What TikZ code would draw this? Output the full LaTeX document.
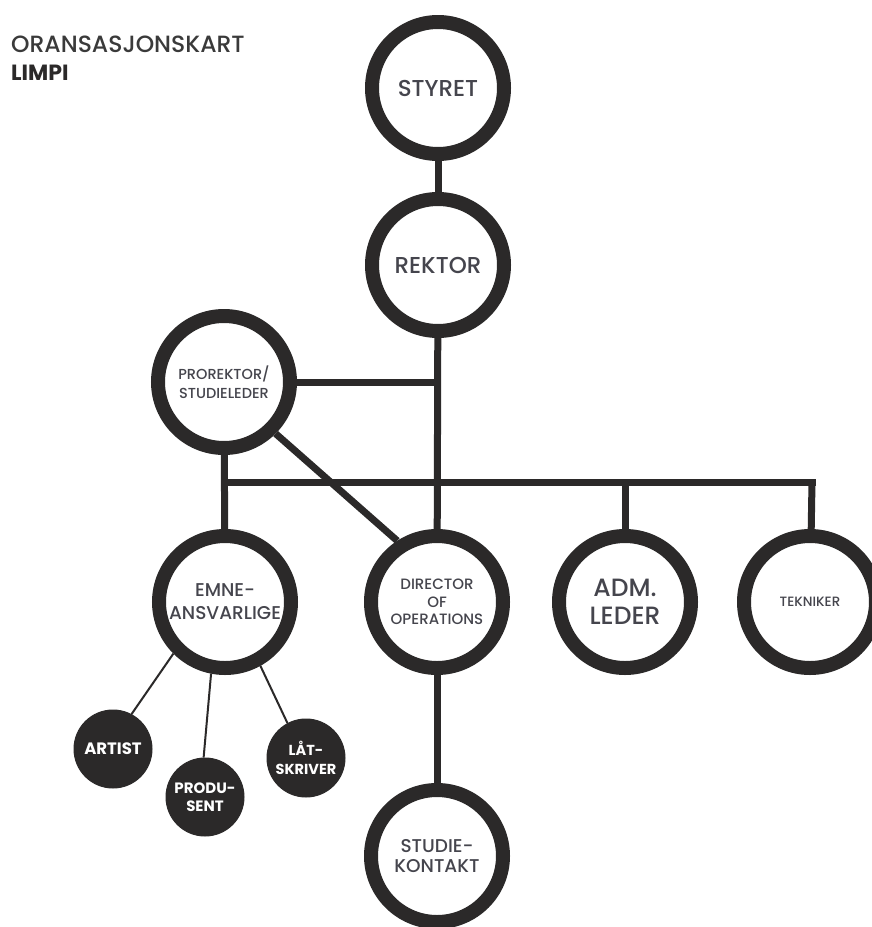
\documentclass[tikz,border=0pt]{standalone}
\usepackage{fontspec}
\setmainfont{Poppins}
\newfontfamily\medfont{Poppins}[UprightFont=* Medium]
\definecolor{ink}{HTML}{2B2929}
\definecolor{txt}{HTML}{45454D}
\definecolor{ttl}{HTML}{3A3A3A}
\begin{document}
\begin{tikzpicture}[x=1pt,y=-1pt,
  ring/.style={circle, draw=ink, line width=14pt, fill=white, minimum size=132pt, inner sep=0pt, text=txt, align=center},
  dot/.style={circle, draw=ink, fill=ink, line width=1pt, minimum size=78pt, inner sep=0pt, text=white, align=center},
  conn/.style={draw=ink, line width=7pt},
  thin/.style={draw=ink, line width=2pt}]
\clip (0,0) rectangle (872,927);
\fill[white] (0,0) rectangle (872,927);
% title
\node[anchor=base west, inner sep=0pt, text=ttl, font=\medfont\fontsize{23.5}{28}\selectfont] (title) at (11,52) {ORANSASJONSKART};
\node[anchor=base west, inner sep=0pt, text=ink, font=\fontsize{22}{26}\selectfont\bfseries] (sub) at (11,80) {LIMPI};
% main nodes
\node[ring, font=\medfont\fontsize{23}{27}\selectfont] (styret) at (438,88) {STYRET};
\node[ring, font=\medfont\fontsize{23}{27}\selectfont] (rektor) at (438,265) {REKTOR};
\node[ring, font=\medfont\fontsize{14.5}{19}\selectfont] (pro) at (224,382) {PROREKTOR/\\STUDIELEDER};
\node[ring, font=\medfont\fontsize{18.5}{23}\selectfont] (emne) at (225,602) {EMNE-\\ANSVARLIGE};
\node[ring, font=\medfont\fontsize{15}{17.5}\selectfont] (dir) at (437,602) {DIRECTOR\\OF\\OPERATIONS};
\node[ring, font=\medfont\fontsize{25}{28}\selectfont] (adm) at (625,602) {ADM.\\LEDER};
\node[ring, font=\medfont\fontsize{13.5}{16}\selectfont] (tek) at (810,602) {TEKNIKER};
\node[ring, font=\medfont\fontsize{18.5}{20.5}\selectfont] (studie) at (437,856) {STUDIE-\\KONTAKT};
% sub nodes
\node[dot, font=\fontsize{16.5}{19}\selectfont\bfseries] (artist) at (113,749) {ARTIST};
\node[dot, font=\fontsize{15}{18.5}\selectfont\bfseries] (prod) at (205,797) {PRODU-\\SENT};
\node[dot, font=\fontsize{14.5}{18.5}\selectfont\bfseries] (lat) at (306,758) {LÅT-\\SKRIVER};
% bus coordinates
\coordinate (busL) at (225,482);
\coordinate (busR) at (812,482);
% connectors
\draw[conn] (styret) -- (rektor);
\draw[conn] (rektor) -- (dir);
\draw[conn] (pro.east) -- (pro.east -| rektor);
\draw[conn] (pro) -- (emne);
\draw[conn] ([xshift=-3.5pt]busL) -- ([xshift=3.5pt]busR);
\draw[conn] (busR) -- (tek);
\draw[conn] (busL -| adm) -- (adm);
\draw[conn] (pro.-45) -- (dir.123);
\draw[conn] (dir) -- (studie);
\draw[thin] (emne.225) -- (artist.62);
\draw[thin] (emne.259) -- (prod.92);
\draw[thin] (emne.299) -- (lat.118);
\end{tikzpicture}
\end{document}
